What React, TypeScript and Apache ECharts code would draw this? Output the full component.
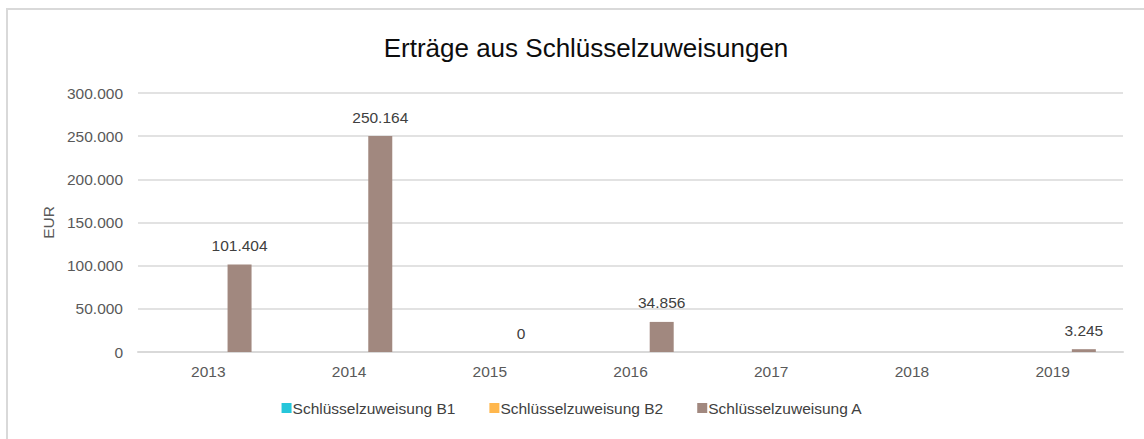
import React, { useEffect, useRef } from "react";
import * as echarts from "echarts";

const titleText = "Erträge aus Schlüsselzuweisungen";
const categories = ["2013", "2014", "2015", "2016", "2017", "2018", "2019"];
const seriesNames = ["Schlüsselzuweisung B1", "Schlüsselzuweisung B2", "Schlüsselzuweisung A"];
const valuesB1: (number | null)[] = [null, null, null, null, null, null, null];
const valuesB2: (number | null)[] = [null, null, null, null, null, null, null];
const valuesA: (number | null)[] = [101404, 250164, 0, 34856, null, null, 3245];
const colors = ["#26c6da", "#ffb74d", "#a1887f"];
const yMax = 300000;
const yInterval = 50000;

const fmt = (v: number) => String(Math.round(v)).replace(/\B(?=(\d{3})+(?!\d))/g, ".");

export default function App() {
  const ref = useRef<HTMLDivElement>(null);
  useEffect(() => {
    if (!ref.current) return;
    const chart = echarts.init(ref.current, undefined, { renderer: "svg" });
    const font = "'Liberation Sans', Arial, sans-serif";
    const fs = 15.5;
    const mk = (name: string, data: (number | null)[], color: string, showLabel: boolean) => ({
      name,
      type: "bar",
      data,
      barWidth: 24,
      barGap: "30%",
      itemStyle: { color },
      label: {
        show: showLabel,
        position: "top",
        distance: 11,
        color: "#404040",
        fontFamily: font,
        fontSize: fs,
        formatter: (p: any) => fmt(p.value),
      },
    });
    chart.setOption({
      animation: false,
      backgroundColor: "#ffffff",
      textStyle: { fontFamily: font },
      graphic: [
        {
          type: "rect",
          shape: { x: 7, y: 9, width: 1200, height: 500 },
          style: { fill: "none", stroke: "#d9d9d9", lineWidth: 2 },
          silent: true,
        },
      ],
      title: {
        text: titleText,
        left: 581,
        textAlign: "center",
        top: 30,
        textStyle: { fontFamily: font, fontSize: 26, fontWeight: "normal", color: "#0d0d0d" },
      },
      legend: {
        bottom: 18,
        left: "center",
        itemWidth: 10,
        itemHeight: 10,
        itemGap: 34,
        icon: "rect",
        data: seriesNames,
        textStyle: { fontFamily: font, fontSize: fs, color: "#404040", padding: [0, 0, 0, -4] },
      },
      grid: { left: 138, right: 21, top: 93, bottom: 87, containLabel: false },
      xAxis: {
        type: "category",
        data: categories,
        axisLine: { lineStyle: { color: "#d9d9d9", width: 2 } },
        axisTick: { show: false },
        axisLabel: { color: "#595959", fontSize: fs, fontFamily: font, margin: 11 },
      },
      yAxis: {
        type: "value",
        min: 0,
        max: yMax,
        interval: yInterval,
        name: "EUR",
        nameLocation: "middle",
        nameGap: 77,
        nameRotate: 90,
        nameTextStyle: { color: "#595959", fontSize: fs, fontFamily: font },
        axisLine: { show: false },
        axisTick: { show: false },
        splitLine: { lineStyle: { color: "#d9d9d9", width: 1.5 } },
        axisLabel: { color: "#595959", fontSize: fs, fontFamily: font, margin: 15, formatter: (v: number) => fmt(v) },
      },
      series: [
        mk(seriesNames[0], valuesB1, colors[0], false),
        mk(seriesNames[1], valuesB2, colors[1], false),
        mk(seriesNames[2], valuesA, colors[2], true),
      ],
    });
    return () => chart.dispose();
  }, []);
  return <div ref={ref} style={{ position: "fixed", left: 0, top: 0, width: 1144, height: 439 }} />;
}
